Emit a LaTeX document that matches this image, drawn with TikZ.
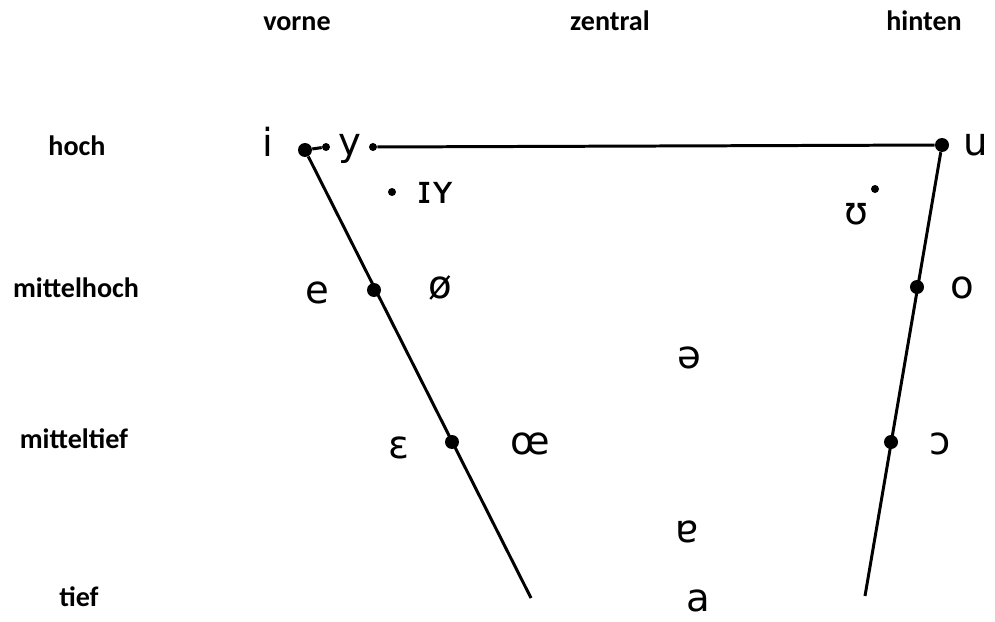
\documentclass[tikz,border=0pt]{standalone}
\usepackage{fontspec}
\setmainfont{Carlito}
\newfontfamily\ipafont{DejaVu Sans}

\begin{document}
\begin{tikzpicture}[
  x=0.02cm, y=-0.02cm,
  axis/.style={font=\bfseries\fontsize{16}{18}\selectfont, inner sep=0pt, anchor=base},
  vowel/.style={font=\ipafont\fontsize{22}{24}\selectfont, inner sep=0pt},
  bigdot/.style={circle, fill, inner sep=0pt, minimum size=0.28cm},
  smalldot/.style={circle, fill, inner sep=0pt, minimum size=0.16cm},
  edgeline/.style={line width=1.7pt}
]
  \useasboundingbox (0,0) rectangle (995,622);

  \node[axis] (vorne) at (297,31) {vorne};
  \node[axis] (zentral) at (610,31) {zentral};
  \node[axis] (hinten) at (924,31) {hinten};
  \node[axis] (hoch) at (77,155) {hoch};
  \node[axis] (mhoch) at (76,297) {mittelhoch};
  \node[axis] (mtief) at (74,448) {mitteltief};
  \node[axis] (tief) at (79,606) {tief};

  \node[bigdot] (i) at (305,150) {};
  \node[smalldot] (yL) at (326,147) {};
  \node[smalldot] (yR) at (373,147) {};
  \node[bigdot] (u) at (942,145) {};
  \node[bigdot] (e) at (374,290) {};
  \node[bigdot] (eps) at (452,442) {};
  \node[bigdot] (o) at (917,287) {};
  \node[bigdot] (oo) at (891,442) {};
  \node[smalldot] (I) at (392,192) {};
  \node[smalldot] (U) at (875,189) {};
  \coordinate (lowL) at (531,598);
  \coordinate (lowR) at (865,596);

  \draw[edgeline] (i) -- (yL);
  \draw[edgeline] (yR) -- (u);
  \draw[edgeline] (i) -- (lowL);
  \draw[edgeline] (u) -- (lowR);

  \node[vowel] (iL) at (268,142) {i};
  \node[vowel] (yT) at (350,149) {y};
  \node[vowel] (IY) at (436,193) {ɪʏ};
  \node[vowel] (uL) at (976,145) {u};
  \node[vowel] (UL) at (856,214) {ʊ};
  \node[vowel] (eL) at (317,293) {e};
  \node[vowel] (oeL) at (440,288) {ø};
  \node[vowel] (oL) at (962,288) {o};
  \node[vowel] (schwa) at (689,358) {ə};
  \node[vowel] (epsL) at (399,448) {ɛ};
  \node[vowel] (oeLig) at (530,444) {œ};
  \node[vowel] (ooL) at (940,444) {ɔ};
  \node[vowel] (turnA) at (687,532) {ɐ};
  \node[vowel] (aL) at (698,601) {a};
\end{tikzpicture}
\end{document}
